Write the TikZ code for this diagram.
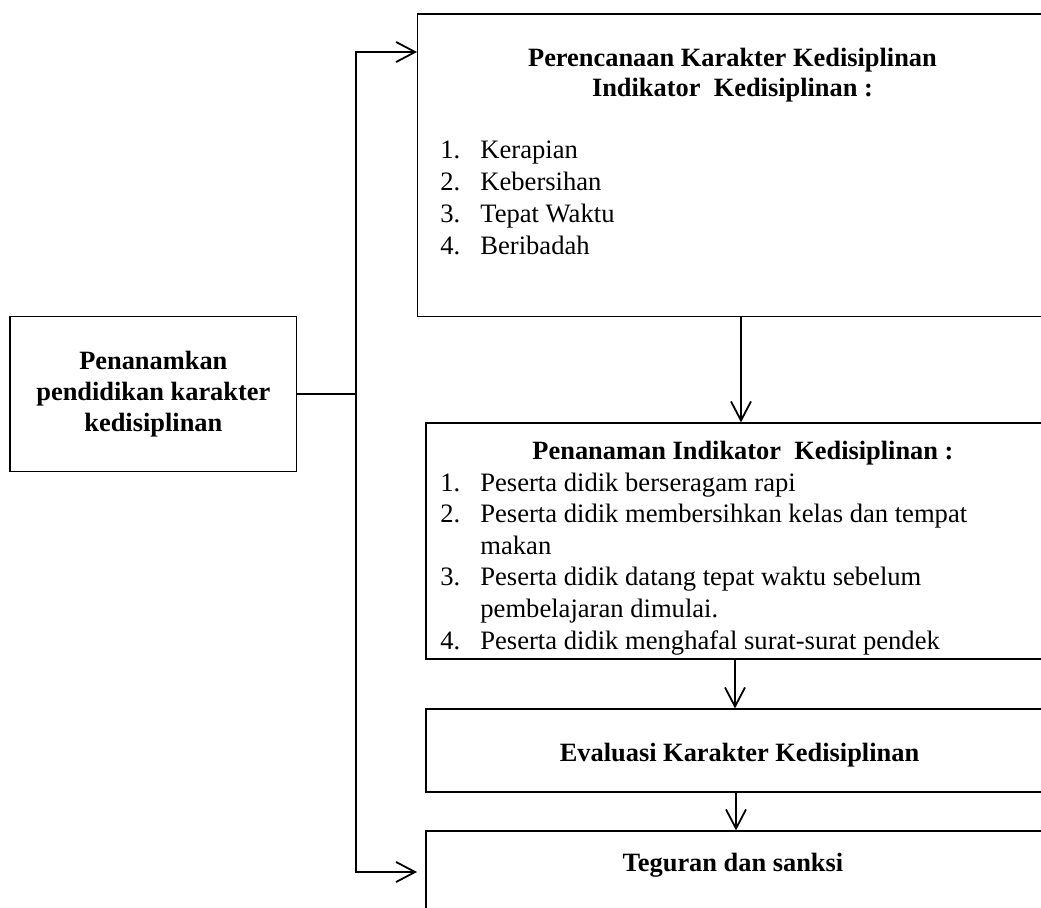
\documentclass[tikz,border=0pt]{standalone}
\usepackage{fontspec}
\setmainfont{Liberation Serif}
\usetikzlibrary{arrows.meta}
\begin{document}
\begin{tikzpicture}[x=0.5pt,y=-0.5pt,
  box/.style={draw, line width=0.6pt, rectangle, inner sep=0pt},
  link/.style={line width=0.9pt, line join=miter},
  tip/.tip={Straight Barb[length=9.5pt,width=10pt]},
  arr/.style={link, -tip},
  txt/.style={inner sep=0pt, font=\fontsize{13.3}{16}\selectfont},
  head/.style={inner sep=0pt, font=\fontsize{13.2}{15.4}\selectfont\bfseries}]
\useasboundingbox (0,0) rectangle (1041,907);

% boxes
\node[box, head, align=center, minimum width=143.35pt, minimum height=77.5pt]
  (root) at (153.35,394.2) {Penanamkan\\pendidikan karakter\\kedisiplinan};
\node[box, minimum width=315.2pt, minimum height=151.35pt] (plan) at (732.85,165.35) {};
\node[box, minimum width=317pt, minimum height=118pt] (impl) at (743,541) {};
\node[box, minimum width=313.5pt, minimum height=41.5pt] (eval) at (739.5,750.5) {};
\node[box, minimum width=317pt, minimum height=64.5pt] (sanction) at (743,895.5) {};

% texts inside the boxes
\node[head, anchor=base] (plantitle) at (732.5,66)
  {\begin{tabular}[t]{@{}c@{}}Perencanaan Karakter Kedisiplinan\\ Indikator~ Kedisiplinan :\end{tabular}};
\node[txt, anchor=base west] (planlist) at (440,158)
  {\begin{tabular}[t]{@{}p{20pt}@{}l@{}}
   1.&Kerapian\\
   2.&Kebersihan\\
   3.&Tepat Waktu\\
   4.&Beribadah
   \end{tabular}};
\node[head, anchor=base] (impltitle) at (743,459) {Penanaman Indikator~ Kedisiplinan :};
\node[inner sep=0pt, font=\fontsize{13.3}{15.8}\selectfont, anchor=base west] (impllist) at (440,491)
  {\begin{tabular}[t]{@{}p{20pt}@{}l@{}}
   1.&Peserta didik berseragam rapi\\
   2.&Peserta didik membersihkan kelas dan tempat\\
     &makan\\
   3.&Peserta didik datang tepat waktu sebelum\\
     &pembelajaran dimulai.\\
   4.&Peserta didik menghafal surat-surat pendek
   \end{tabular}};
\node[head, anchor=base] (evallbl) at (739.5,761) {Evaluasi Karakter Kedisiplinan};
\node[head, anchor=base] (sanctionlbl) at (733,871) {Teguran dan sanksi};

% connectors
\coordinate (trunktop) at (356,52);
\coordinate (trunkbot) at (356,872);
\coordinate (xa) at (741,0);
\coordinate (xb) at (735,0);
\coordinate (xc) at (736,0);
\draw[link] (root.east) -- (root.east -| trunktop);
\draw[link, tip-tip, shorten >=4.2pt]
  (plan.west |- trunktop) -- (trunktop) -- (trunkbot) -- (sanction.west |- trunkbot);
\draw[arr] (plan.south -| xa) -- (impl.north -| xa);
\draw[arr] (impl.south -| xb) -- (eval.north -| xb);
\draw[arr] (eval.south -| xc) -- (sanction.north -| xc);
\end{tikzpicture}
\end{document}
